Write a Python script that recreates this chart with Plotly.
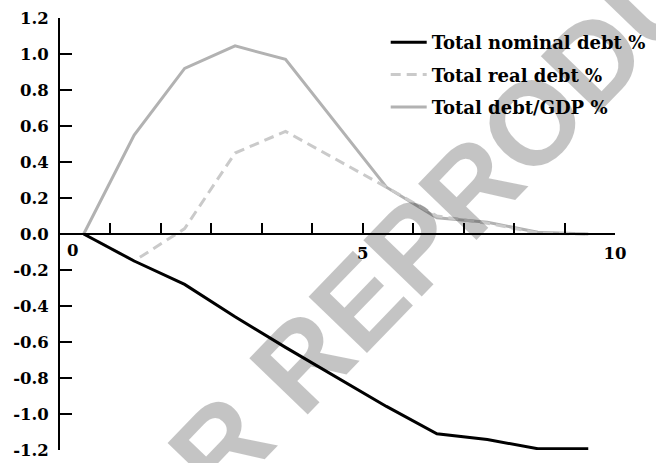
import plotly.graph_objects as go

# ---- data ----
quarters = [0, 1, 2, 3, 4, 5, 6, 7, 8, 9, 10]
nominal_debt = [0.0, -0.15, -0.28, -0.46, -0.63, -0.795, -0.958, -1.11, -1.142, -1.193, -1.193]
real_debt = [0.0, -0.15, 0.03, 0.45, 0.57, 0.415, 0.26, 0.10, 0.06, 0.005, 0.0]
debt_gdp = [0.0, 0.55, 0.92, 1.045, 0.97, 0.615, 0.26, 0.09, 0.065, 0.01, 0.0]

series_names = ["Total nominal debt %", "Total real debt %", "Total debt/GDP %"]

y_ticks = [1.2, 1.0, 0.8, 0.6, 0.4, 0.2, 0.0, -0.2, -0.4, -0.6, -0.8, -1.0, -1.2]
y_tick_labels = ["1.2", "1.0", "0.8", "0.6", "0.4", "0.2", "0.0",
                 "-0.2", "-0.4", "-0.6", "-0.8", "-1.0", "-1.2"]
x_ticks = [0.53, 1.53, 2.53, 3.53, 4.53, 5.53, 6.53, 7.53, 8.53, 9.53, 10.53]
x_tick_labels = ["", "", "", "", "", "5", "", "", "", "", "10"]
origin_label = "0"
watermark = "NOT FOR REPRODUCTION"

TICKFONT = dict(family="DejaVu Serif", size=16.5, color="black", weight="bold")
LEGFONT = dict(family="DejaVu Serif", size=18, color="black", weight="bold")

fig = go.Figure()
# draw grey lines first so the black line sits on top; legend order via legendrank
fig.add_trace(go.Scatter(x=quarters, y=debt_gdp, mode="lines", name=series_names[2],
                         legendgroup="c", legendrank=3,
                         line=dict(color="#b2b2b2", width=3)))
fig.add_trace(go.Scatter(x=quarters, y=real_debt, mode="lines", name=series_names[1],
                         legendgroup="b", legendrank=2,
                         line=dict(color="#cacaca", width=3, dash="10px,6px")))
fig.add_trace(go.Scatter(x=quarters, y=nominal_debt, mode="lines", name=series_names[0],
                         legendgroup="a", legendrank=1,
                         line=dict(color="black", width=3)))

fig.update_layout(
    width=656, height=463,
    margin=dict(l=60, r=40.5, t=18, b=13, autoexpand=False),
    paper_bgcolor="white", plot_bgcolor="white",
    showlegend=True,
    legend=dict(x=(386 - 60) / 555.5, y=(450 - 24) / 432, xanchor="left", yanchor="top",
                traceorder="grouped", tracegroupgap=6, font=LEGFONT,
                bgcolor="rgba(0,0,0,0)", itemwidth=36),
    xaxis=dict(range=[-0.47, 10.53], tickmode="array", tickvals=x_ticks,
               ticktext=x_tick_labels, ticks="inside", ticklen=10, tickwidth=1.5,
               tickcolor="black", showline=True, linecolor="black", linewidth=2,
               showgrid=False, zeroline=False, anchor="free", position=0.5,
               tickfont=TICKFONT, ticklabelstandoff=4, automargin=False),
    yaxis=dict(range=[-1.2, 1.2], tickmode="array", tickvals=y_ticks,
               ticktext=y_tick_labels, ticks="inside", ticklen=12, tickwidth=1.5,
               tickcolor="black", showline=True, linecolor="black", linewidth=2,
               showgrid=False, zeroline=False, tickfont=TICKFONT, ticklabelstandoff=6,
               automargin=False),
    annotations=[
        dict(x=-0.23, y=0, xref="x", yref="y", text=origin_label, showarrow=False,
             yanchor="top", yshift=-5, font=TICKFONT),
        dict(x=(410 - 60) / 555.5, y=(450 - 250) / 432, xref="paper", yref="paper",
             text=watermark, showarrow=False, textangle=-46,
             font=dict(family="Liberation Sans", size=118, color="rgba(0,0,0,0.23)",
                       weight="bold")),
    ],
)

fig.write_html("out.html")
